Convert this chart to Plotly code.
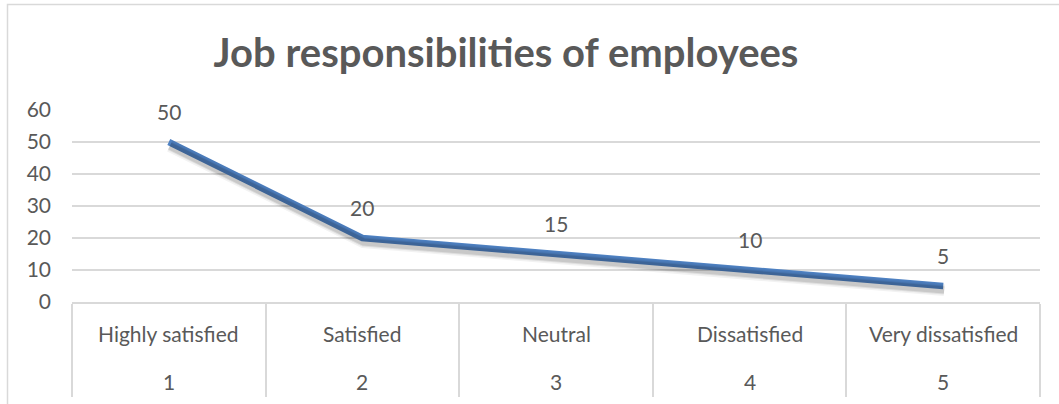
import plotly.graph_objects as go

categories = ["Highly satisfied", "Satisfied", "Neutral", "Dissatisfied", "Very dissatisfied"]
codes = ["1", "2", "3", "4", "5"]
values = [50, 20, 15, 10, 5]
title_text = "Job responsibilities of employees"

FONT = "Lato, Carlito, Calibri, sans-serif"
GRAY = "#595959"
GRID = "#d9d9d9"
LINE = "#4e81c2"
FS = 21

W, H = 1059, 404
L, R, T, B = 72, 19, 110, 102
pw = W - L - R
ph = H - T - B

fig = go.Figure()

# soft shadow of the line, drawn on slightly shifted overlay axes
dx_px, dy_px = 1, 4
xu = 5 / pw
yu = 60 / ph
for wdt, alpha in [(12, 0.05), (9, 0.08), (7, 0.10)]:
    fig.add_trace(go.Scatter(
        x=list(range(len(values))), y=values, mode="lines",
        line=dict(color=f"rgba(0,0,0,{alpha})", width=wdt),
        xaxis="x2", yaxis="y2", hoverinfo="skip", showlegend=False,
    ))
fig.add_trace(go.Scatter(
    x=categories, y=values, mode="lines",
    line=dict(color=LINE, width=6.5),
    showlegend=False,
))

ann = []
for c, v in zip(categories, values):
    ann.append(dict(x=c, y=v, xref="x", yref="y", text=str(v), showarrow=False,
                    yshift=31, font=dict(family=FONT, size=FS, color=GRAY)))
for c, k in zip(categories, codes):
    ann.append(dict(x=c, y=(302 - 333) / ph, xref="x", yref="paper", text=c, showarrow=False,
                    yanchor="middle", font=dict(family=FONT, size=FS, color=GRAY)))
    ann.append(dict(x=c, y=(302 - 381) / ph, xref="x", yref="paper", text=k, showarrow=False,
                    yanchor="middle", font=dict(family=FONT, size=FS, color=GRAY)))

fig.update_layout(
    width=W, height=H,
    margin=dict(l=L, r=R, t=T, b=B, autoexpand=False),
    paper_bgcolor="white", plot_bgcolor="white",
    title=dict(text=f"<b>{title_text}</b>", x=506 / W, xref="container", xanchor="center",
               y=1 - 53 / H, yref="container", yanchor="middle",
               font=dict(family=FONT, size=40, color=GRAY)),
    xaxis=dict(type="category", range=[-0.5, 4.5], tickson="boundaries", ticks="outside",
               ticklen=93, tickwidth=1.5, tickcolor=GRID, showticklabels=False,
               showgrid=False, showline=True, linecolor=GRID, linewidth=1.5, zeroline=False,
               automargin=False),
    yaxis=dict(range=[0, 60], dtick=10, showgrid=True, gridcolor=GRID, gridwidth=1.5,
               zeroline=False, showline=False, ticks="", ticklabelstandoff=20,
               tickfont=dict(family=FONT, size=FS, color=GRAY), automargin=False),
    xaxis2=dict(overlaying="x", range=[-0.5 - dx_px * xu, 4.5 - dx_px * xu], visible=False),
    yaxis2=dict(overlaying="y", range=[dy_px * yu, 60 + dy_px * yu], visible=False),
    annotations=ann,
    shapes=[dict(type="rect", xref="paper", yref="paper",
                 x0=(7.5 - L) / pw, x1=1.2, y0=-0.8, y1=(302 - 4.5) / ph,
                 line=dict(color=GRID, width=1.5), fillcolor="rgba(0,0,0,0)", layer="below")],
    showlegend=False,
)

fig.write_html("out.html")
